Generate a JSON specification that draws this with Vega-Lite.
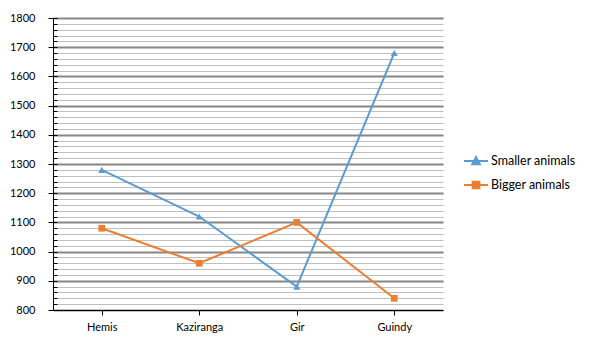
{
  "$schema": "https://vega.github.io/schema/vega-lite/v6.json",
  "width": 390,
  "height": 292,
  "autosize": {"type": "none"},
  "padding": {"left": 53, "top": 18, "right": 153, "bottom": 44},
  "background": "white",
  "config": {
    "view": {"stroke": null},
    "font": "Lato",
    "axis": {"labelFont": "Lato", "labelFontSize": 11, "labelColor": "#000000"}
  },
  "data": {
    "values": [
      {"park": "Hemis", "series": "Smaller animals", "value": 1280},
      {"park": "Kaziranga", "series": "Smaller animals", "value": 1120},
      {"park": "Gir", "series": "Smaller animals", "value": 880},
      {"park": "Guindy", "series": "Smaller animals", "value": 1680},
      {"park": "Hemis", "series": "Bigger animals", "value": 1080},
      {"park": "Kaziranga", "series": "Bigger animals", "value": 960},
      {"park": "Gir", "series": "Bigger animals", "value": 1100},
      {"park": "Guindy", "series": "Bigger animals", "value": 840}
    ]
  },
  "encoding": {
    "x": {
      "field": "park", "type": "nominal", "sort": null,
      "scale": {"type": "point", "padding": 0.5},
      "axis": {"title": null, "labelAngle": 0, "domainColor": "#000000", "domainWidth": 1, "tickColor": "#000000", "tickSize": 5, "labelPadding": 6, "grid": false}
    },
    "y": {
      "field": "value", "type": "quantitative",
      "scale": {"domain": [800, 1800], "nice": false, "zero": false}
    },
    "color": {
      "field": "series", "type": "nominal",
      "scale": {"domain": ["Smaller animals", "Bigger animals"], "range": ["#5B9BD5", "#ED7D31"]},
      "legend": {
        "title": null, "orient": "none", "legendX": 410, "legendY": 130,
        "symbolSize": 576, "symbolStrokeWidth": 2,
        "labelFont": "Lato", "labelFontSize": 12.5, "labelColor": "#000000", "labelOffset": 2, "rowPadding": 3, "labelLimit": 200,
        "encode": {
          "symbols": {
            "update": {
              "shape": {"signal": "datum.value == 'Smaller animals' ? 'M-1,0H1M-0.32,0.28L0,-0.32L0.32,0.28Z' : 'M-1,0H1M-0.28,-0.28H0.28V0.28H-0.28Z'"},
              "fill": {"signal": "datum.value == 'Smaller animals' ? '#5B9BD5' : '#ED7D31'"},
              "stroke": {"signal": "datum.value == 'Smaller animals' ? '#5B9BD5' : '#ED7D31'"},
              "strokeWidth": {"value": 2},
              "opacity": {"value": 1},
              "fillOpacity": {"value": 1}
            }
          }
        }
      }
    }
  },
  "layer": [
    {
      "mark": {"type": "line", "strokeWidth": 2},
      "encoding": {
        "y": {
          "field": "value", "type": "quantitative",
          "axis": {
            "orient": "left", "title": null, "labels": false, "domain": false,
            "values": [800,820,840,860,880,900,920,940,960,980,1000,1020,1040,1060,1080,1100,1120,1140,1160,1180,1200,1220,1240,1260,1280,1300,1320,1340,1360,1380,1400,1420,1440,1460,1480,1500,1520,1540,1560,1580,1600,1620,1640,1660,1680,1700,1720,1740,1760,1780,1800],
            "grid": true, "gridColor": "#BFBFBF", "gridWidth": 1,
            "tickColor": "#000000", "tickSize": -4
          }
        }
      }
    },
    {
      "transform": [{"filter": "datum.series == 'Smaller animals'"}],
      "mark": {"type": "point", "filled": true, "opacity": 1, "shape": "triangle-up", "size": 50},
      "encoding": {
        "y": {
          "field": "value", "type": "quantitative",
          "axis": {
            "orient": "left", "title": null, "format": "d",
            "values": [800,900,1000,1100,1200,1300,1400,1500,1600,1700,1800],
            "grid": true, "gridColor": "#868686", "gridWidth": 2,
            "domainColor": "#000000", "domainWidth": 1,
            "tickColor": "#000000", "tickSize": 5, "labelPadding": 13
          }
        }
      }
    },
    {
      "transform": [{"filter": "datum.series == 'Bigger animals'"}],
      "mark": {"type": "point", "filled": true, "opacity": 1, "shape": "square", "size": 45},
      "encoding": {
        "y": {"field": "value", "type": "quantitative", "axis": null}
      }
    }
  ],
  "resolve": {"axis": {"y": "independent"}}
}
